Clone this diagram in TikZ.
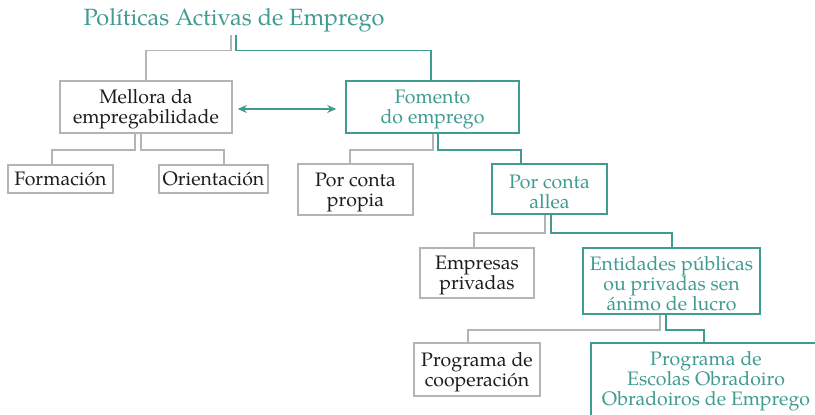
\documentclass[tikz,border=0pt]{standalone}
\usepackage{fontspec}
\setmainfont{TeX Gyre Pagella}
\usetikzlibrary{arrows.meta}
\definecolor{tealc}{RGB}{64,155,145}
\definecolor{boxgray}{RGB}{180,180,182}
\definecolor{textdark}{RGB}{30,28,29}
\newcommand\boxfont{\fontsize{19.5}{20}\selectfont}
\newcommand\titlefont{\fontsize{23.5}{28}\selectfont}
\newcommand\ts{\rule{0pt}{18.5pt}}
\tikzset{
  boxbase/.style={line width=1.6pt, align=center, inner sep=0pt, font=\boxfont},
  gbox/.style={boxbase, draw=boxgray, text=textdark},
  tbox/.style={boxbase, draw=tealc, text=tealc},
  oneline/.style={text height=17pt, text depth=5pt},
  gline/.style={draw=boxgray, line width=1.6pt},
  tline/.style={draw=tealc, line width=1.6pt},
  biarrow/.style={{Stealth[length=9pt,width=8pt]}-{Stealth[length=9pt,width=8pt]}}
}
\begin{document}
\begin{tikzpicture}[x=1pt,y=-1pt]
\clip (0,0) rectangle (815,415);
\fill[white] (0,0) rectangle (815,415);
\node[anchor=base, inner sep=2.5pt, font=\titlefont, text=tealc] (title) at (234,26) {Políticas Activas de Emprego};
\node[gbox, minimum width=172pt, minimum height=52pt] (mellora) at (146,107) {\ts Mellora da\\empregabilidade};
\node[tbox, minimum width=173pt, minimum height=52pt] (fomento) at (432.5,107) {\ts Fomento\\do emprego};
\node[gbox, oneline, minimum width=105pt, minimum height=28pt] (formacion) at (60.5,179) {Formación};
\node[gbox, oneline, minimum width=109pt, minimum height=28pt] (orientacion) at (213.5,179) {Orientación};
\node[gbox, minimum width=115pt, minimum height=51pt] (propia) at (355.5,189.5) {\ts Por conta\\propia};
\node[tbox, minimum width=115pt, minimum height=50pt] (allea) at (549.5,189) {\ts Por conta\\allea};
\node[gbox, minimum width=114pt, minimum height=50pt] (empresas) at (477,273) {\ts Empresas\\privadas};
\node[tbox, minimum width=177pt, minimum height=66pt] (entidades) at (671.5,281) {\ts Entidades públicas\\ou privadas sen\\ánimo de lucro};
\node[gbox, minimum width=126pt, minimum height=53pt] (cooperacion) at (477,369.5) {\ts Programa de\\cooperación};
\node[tbox, minimum width=230pt, minimum height=76pt] (escolas) at (706,381) {Programa de\\Escolas Obradoiro\\Obradoiros de Emprego};

\draw[gline] ([xshift=-3pt]title.south) -- ++(0,15) -| (mellora.north);
\draw[tline] ([xshift=2pt]title.south) -- ++(0,15) -| ([xshift=-1.5pt]fomento.north);
\draw[gline] ([xshift=-11pt]mellora.south) -- ++(0,16) -| ([xshift=-8.5pt]formacion.north);
\draw[gline] ([xshift=-5pt]mellora.south) -- ++(0,16) -| ([xshift=10.5pt]orientacion.north);
\draw[gline] ([xshift=0.5pt]fomento.south) -- ++(0,16) -| ([xshift=-5.5pt]propia.north);
\draw[tline] ([xshift=5.5pt]fomento.south) -- ++(0,16) -| ([xshift=-28.5pt]allea.north);
\draw[gline] ([xshift=-4.5pt]allea.south) -- ++(0,18) -| ([xshift=-3pt]empresas.north);
\draw[tline] ([xshift=1.5pt]allea.south) -- ++(0,18) -| ([xshift=0.5pt]entidades.north);
\draw[gline] ([xshift=-11.5pt]entidades.south) -- ++(0,15) -| ([xshift=-9pt]cooperacion.north);
\draw[tline] ([xshift=-5.5pt]entidades.south) -- ++(0,15) -| ([xshift=-2pt]escolas.north);
\draw[tline, biarrow] ([xshift=5pt,yshift=-2pt]mellora.east) -- ([xshift=-9pt,yshift=-2pt]fomento.west);
\end{tikzpicture}
\end{document}
